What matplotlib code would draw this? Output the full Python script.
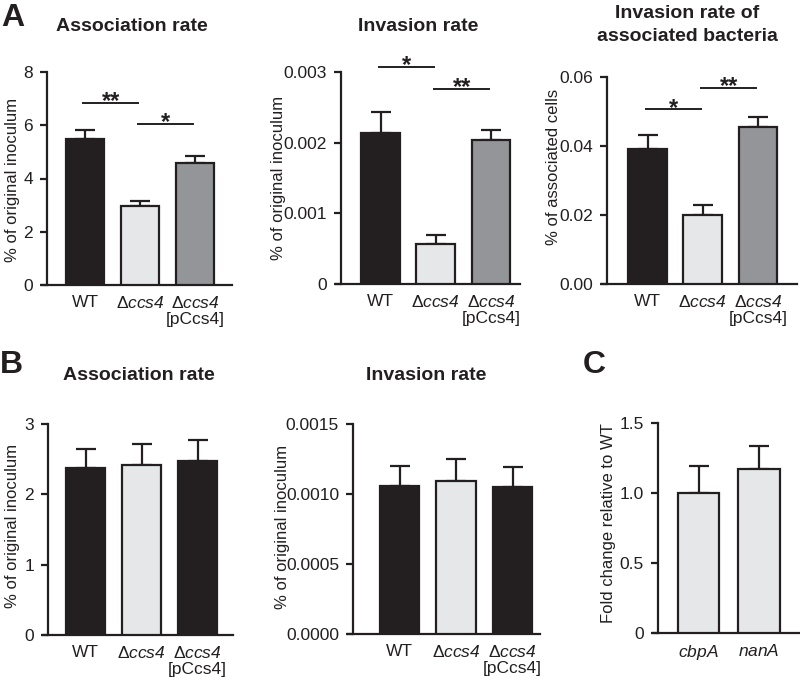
import numpy as np
import matplotlib
matplotlib.use('Agg')
import matplotlib.pyplot as plt

plt.rcParams['font.family'] = ['Liberation Sans', 'DejaVu Sans']
plt.rcParams['mathtext.fontset'] = 'custom'
plt.rcParams['mathtext.rm'] = 'Liberation Sans:italic'
plt.rcParams['mathtext.it'] = 'Liberation Sans:italic'

DARK = '#231f20'
LIGHT = '#e6e7e8'
GREY = '#939598'

strains = ['WT', 'Δ$ccs4$', 'Δ$ccs4$\n[pCcs4]']
genes = ['$cbpA$', '$nanA$']

# Panel A
a_assoc = [5.47, 2.95, 4.58]
a_assoc_err = [0.36, 0.19, 0.27]
a_inv = [0.00213, 0.000570, 0.00204]
a_inv_err = [0.00031, 0.00012, 0.00014]
a_ratio = [0.0392, 0.0199, 0.0455]
a_ratio_err = [0.0041, 0.0030, 0.0029]

# Panel B
b_assoc = [2.37, 2.41, 2.47]
b_assoc_err = [0.28, 0.31, 0.30]
b_inv = [0.00106, 0.00109, 0.00105]
b_inv_err = [0.00014, 0.00016, 0.00014]

# Panel C
c_fold = [1.00, 1.17]
c_fold_err = [0.19, 0.165]

W, H = 800, 677
fig = plt.figure(figsize=(W / 100, H / 100), dpi=100)


def panel(spine, right, top, bottom, c0, step, vals, errs, colors, ymax,
          yticks, yticklabels, xlabels, ylabel, ylab_pos, width=0.7):
    left = spine - 5
    ax = fig.add_axes([left / W, 1 - bottom / H, (right - left) / W, (bottom - top) / H])
    x = np.arange(len(vals))
    ax.bar(x, vals, width=width, color=colors, edgecolor=DARK, linewidth=1.6, zorder=3)
    ax.errorbar(x, vals, yerr=[np.zeros(len(vals)), errs], fmt='none', ecolor=DARK,
                elinewidth=1.6, capsize=7, capthick=1.6, zorder=2)
    ax.set_xlim((left - c0) / step, (right - c0) / step)
    ax.set_ylim(0, ymax)
    ax.spines['left'].set_position(('data', (spine - c0) / step))
    for s in ['top', 'right']:
        ax.spines[s].set_visible(False)
    for s in ['left', 'bottom']:
        ax.spines[s].set_linewidth(1.6)
        ax.spines[s].set_color(DARK)
    ax.set_yticks(yticks)
    ax.set_yticklabels(yticklabels)
    ax.set_xticks(x)
    ax.set_xticklabels(xlabels)
    for lab in ax.get_xticklabels():
        lab.set_linespacing(1.12)
    ax.tick_params(axis='y', length=5, width=1.6, color=DARK, pad=5, labelsize=12.5,
                   labelcolor=DARK)
    ax.tick_params(axis='x', length=0, pad=7, labelsize=12.5, labelcolor=DARK)
    fig.text(ylab_pos[0] / W, 1 - ylab_pos[1] / H, ylabel, rotation=90,
             ha='center', va='center', fontsize=12, color=DARK)
    return ax


def sig(ax, i, j, y, stars):
    ax.plot([i - 0.03, j - 0.03], [y, y], color=DARK, lw=1.4, clip_on=False)
    ax.annotate(stars, xy=((i + j) / 2 - 0.03, y), xytext=(0, -4),
                textcoords='offset points', ha='center', va='baseline',
                fontsize=17, fontweight='bold', color=DARK, annotation_clip=False)


ax1 = panel(47, 232, 72, 285, 85, 55, a_assoc, a_assoc_err, [DARK, LIGHT, GREY], 8,
            [0, 2, 4, 6, 8], ['0', '2', '4', '6', '8'], strains,
            '% of original inoculum', (13, 180), width=0.69)
sig(ax1, 0, 1, 6.85, '**')
sig(ax1, 1, 2, 6.05, '*')

ax2 = panel(341, 520, 72, 284, 380.5, 55.3, a_inv, a_inv_err, [DARK, LIGHT, GREY], 0.003,
            [0, 0.001, 0.002, 0.003], ['0', '0.001', '0.002', '0.003'], strains,
            '% of original inoculum', (278, 178))
sig(ax2, 0, 1, 0.003075, '*')
sig(ax2, 1, 2, 0.00276, '**')

ax3 = panel(607, 797, 77, 284, 647.5, 55.3, a_ratio, a_ratio_err, [DARK, LIGHT, GREY], 0.06,
            [0, 0.02, 0.04, 0.06], ['0.00', '0.02', '0.04', '0.06'], strains,
            '% of associated cells', (553, 167))
sig(ax3, 0, 1, 0.0507, '*')
sig(ax3, 1, 2, 0.0569, '**')

ax4 = panel(48, 233, 424, 635, 85.5, 56, b_assoc, b_assoc_err, [DARK, LIGHT, DARK], 3,
            [0, 1, 2, 3], ['0', '1', '2', '3'], strains,
            '% of original inoculum', (13, 526))

ax5 = panel(353, 540, 424, 634, 399.5, 56.5, b_inv, b_inv_err, [DARK, LIGHT, DARK], 0.0015,
            [0, 0.0005, 0.001, 0.0015], ['0.0000', '0.0005', '0.0010', '0.0015'], strains,
            '% of original inoculum', (282, 527))

ax6 = panel(658, 799, 423, 633, 698.5, 60.5, c_fold, c_fold_err, [LIGHT, LIGHT], 1.5,
            [0, 0.5, 1.0, 1.5], ['0', '0.5', '1.0', '1.5'], genes,
            'Fold change relative to WT', (608, 523), width=0.68)


def ftext(x, y, s, **kw):
    fig.text(x / W, 1 - y / H, s, color=DARK, **kw)


# titles
ftext(132, 31, 'Association rate', ha='center', va='baseline', fontsize=14, fontweight='bold')
ftext(418, 31, 'Invasion rate', ha='center', va='baseline', fontsize=14, fontweight='bold')
ftext(687, 18, 'Invasion rate of', ha='center', va='baseline', fontsize=14, fontweight='bold')
ftext(687, 41, 'associated bacteria', ha='center', va='baseline', fontsize=14, fontweight='bold')
ftext(139, 380, 'Association rate', ha='center', va='baseline', fontsize=14, fontweight='bold')
ftext(426, 380, 'Invasion rate', ha='center', va='baseline', fontsize=14, fontweight='bold')

# panel letters
ftext(1, 26, 'A', ha='left', va='baseline', fontsize=23, fontweight='bold')
ftext(0, 373, 'B', ha='left', va='baseline', fontsize=23, fontweight='bold')
ftext(583, 373, 'C', ha='left', va='baseline', fontsize=23, fontweight='bold')

fig.savefig('out.png', dpi=100)
